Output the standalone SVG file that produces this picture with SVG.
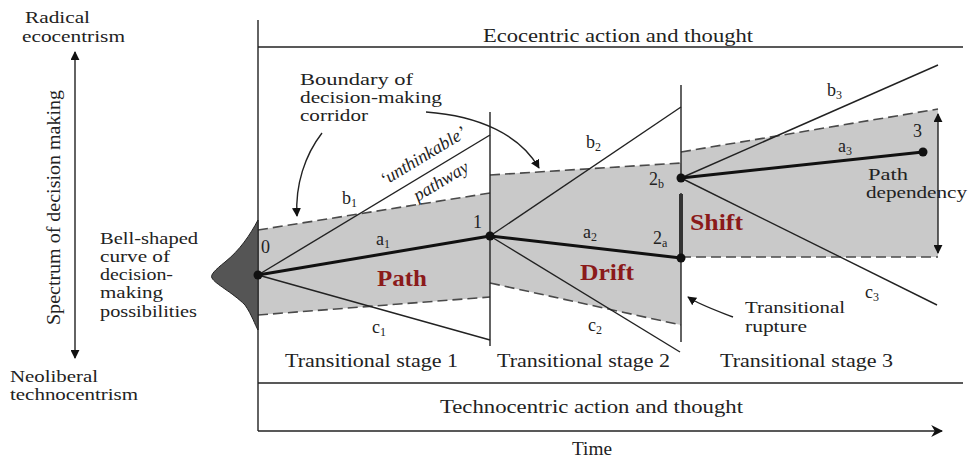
<svg xmlns="http://www.w3.org/2000/svg" width="973" height="460" viewBox="0 0 973 460">
<defs>
<marker id="ah" viewBox="0 0 10 10" refX="9" refY="5" markerWidth="9" markerHeight="9" orient="auto-start-reverse" markerUnits="userSpaceOnUse"><path d="M0,0 L10,5 L0,10 z" fill="#111"/></marker>
<marker id="ahs" viewBox="0 0 10 10" refX="9" refY="5" markerWidth="12" markerHeight="12" orient="auto-start-reverse" markerUnits="userSpaceOnUse"><path d="M0,0 L10,5 L0,10 L3,5 z" fill="#111"/></marker>
</defs>
<style>
text{font-family:"Liberation Serif","Times New Roman",serif;fill:#222;font-size:19px}
.st{font-size:16px}
.red{fill:#8b1a1a;font-weight:bold;font-size:23px}
.lbl{font-size:18px}
.ln{stroke:#222;stroke-width:1.4;fill:none}
.thick{stroke:#111;stroke-width:3;fill:none}
.dash{stroke:#4a4a4a;stroke-width:1.6;stroke-dasharray:10,5;fill:none}
.corr{fill:#c9c9c9;stroke:none}
.sub{font-size:12px}
</style>
<rect width="973" height="460" fill="#fff"/>

<g id="corridor">
<polygon class="corr" points="258,230 490,193 490,297 258,315"/>
<polygon class="corr" points="490,175 681,163 681,325 490,283"/>
<polygon class="corr" points="681,152 938,109 938,257 681,257"/>
<line class="dash" x1="258" y1="230" x2="490" y2="193"/>
<line class="dash" x1="258" y1="315" x2="490" y2="297"/>
<line class="dash" x1="490" y1="175" x2="681" y2="163"/>
<line class="dash" x1="490" y1="283" x2="681" y2="325"/>
<line class="dash" x1="681" y1="152" x2="938" y2="109"/>
<line class="dash" x1="681" y1="257" x2="938" y2="257"/>
</g>

<g id="frame">
<line class="ln" x1="258" y1="20" x2="258" y2="431"/>
<line class="ln" x1="258" y1="47" x2="963" y2="47"/>
<line class="ln" x1="258" y1="383" x2="963" y2="383"/>
<line class="ln" x1="258" y1="431" x2="942" y2="431" marker-end="url(#ahs)"/>
<line class="ln" x1="490" y1="112" x2="490" y2="346"/>
<line class="ln" x1="681" y1="85" x2="681" y2="178"/>
<line class="ln" x1="681" y1="193" x2="681" y2="342"/>
<line stroke="#333" stroke-width="4" x1="681" y1="194" x2="681" y2="256"/>
</g>

<g id="bell">
<path d="M258,220 C250,235 240,250 225,262 C215,270 210,275 212,278 C215,284 232,292 245,305 C252,315 255,325 258,330 Z" fill="#555" stroke="#222" stroke-width="1"/>
</g>

<g id="connectors">
<line class="ln" x1="258" y1="275" x2="490" y2="135"/>
<line class="ln" x1="258" y1="275" x2="490" y2="340"/>
<line class="thick" x1="258" y1="275" x2="490" y2="236"/>
<line class="ln" x1="490" y1="236" x2="681" y2="107"/>
<line class="ln" x1="490" y1="236" x2="680" y2="352"/>
<line class="thick" x1="490" y1="236" x2="681" y2="258"/>
<line class="ln" x1="681" y1="178" x2="938" y2="65"/>
<line class="ln" x1="681" y1="178" x2="937" y2="305"/>
<line class="thick" x1="681" y1="178" x2="923" y2="152"/>
<line class="ln" x1="938" y1="114" x2="938" y2="253" marker-start="url(#ah)" marker-end="url(#ah)"/>
<line class="ln" x1="75" y1="52" x2="75" y2="358" marker-start="url(#ah)" marker-end="url(#ah)"/>
<path class="ln" d="M322,133 C305,155 295,185 297,216" marker-end="url(#ah)"/>
<path class="ln" d="M426,112 C480,116 520,135 539,168" marker-end="url(#ah)"/>
<path class="ln" d="M733,317 C715,310 700,305 688,297" marker-end="url(#ah)"/>
</g>

<g id="points">
<circle cx="258" cy="275" r="4.5" fill="#111"/>
<circle cx="490" cy="236" r="4.5" fill="#111"/>
<circle cx="681" cy="258" r="4.5" fill="#111"/>
<circle cx="681" cy="178" r="4.5" fill="#111"/>
<circle cx="923" cy="152" r="4.5" fill="#111"/>
</g>

<g id="labels">
<text x="483" y="42" textLength="270" lengthAdjust="spacingAndGlyphs">Ecocentric action and thought</text>
<text x="440" y="413" textLength="303" lengthAdjust="spacingAndGlyphs">Technocentric action and thought</text>
<text x="572" y="455" textLength="40" lengthAdjust="spacingAndGlyphs">Time</text>
<text class="st" x="25" y="23" textLength="65" lengthAdjust="spacingAndGlyphs">Radical</text>
<text class="st" x="22" y="42" textLength="103" lengthAdjust="spacingAndGlyphs">ecocentrism</text>
<text class="st" x="10" y="382" textLength="88" lengthAdjust="spacingAndGlyphs">Neoliberal</text>
<text class="st" x="10" y="400" textLength="128" lengthAdjust="spacingAndGlyphs">technocentrism</text>
<text x="0" y="0" transform="translate(60 325) rotate(-90)" textLength="235" lengthAdjust="spacingAndGlyphs">Spectrum of decision making</text>
<text class="st" x="100" y="244" textLength="98" lengthAdjust="spacingAndGlyphs">Bell-shaped</text>
<text class="st" x="100" y="262" textLength="70" lengthAdjust="spacingAndGlyphs">curve of</text>
<text class="st" x="100" y="280" textLength="73" lengthAdjust="spacingAndGlyphs">decision-</text>
<text class="st" x="100" y="298" textLength="63" lengthAdjust="spacingAndGlyphs">making</text>
<text class="st" x="100" y="317" textLength="97" lengthAdjust="spacingAndGlyphs">possibilities</text>
<text class="st" x="300" y="85" textLength="113" lengthAdjust="spacingAndGlyphs">Boundary of</text>
<text class="st" x="300" y="103" textLength="142" lengthAdjust="spacingAndGlyphs">decision-making</text>
<text class="st" x="300" y="121" textLength="68" lengthAdjust="spacingAndGlyphs">corridor</text>
<text class="lbl" font-style="italic" x="426" y="161" text-anchor="middle" transform="rotate(-31 426 161)">‘unthinkable’</text>
<text class="lbl" font-style="italic" x="444" y="186" text-anchor="middle" transform="rotate(-31 444 186)">pathway</text>
<text class="lbl" x="261" y="253">0</text>
<text class="lbl" x="473" y="228">1</text>
<text class="lbl" x="342" y="204">b<tspan class="sub" dy="3">1</tspan></text>
<text class="lbl" x="376" y="245">a<tspan class="sub" dy="3">1</tspan></text>
<text class="lbl" x="372" y="333">c<tspan class="sub" dy="3">1</tspan></text>
<text class="red" x="377" y="286" textLength="50" lengthAdjust="spacingAndGlyphs">Path</text>
<text class="lbl" x="586" y="148">b<tspan class="sub" dy="3">2</tspan></text>
<text class="lbl" x="583" y="238">a<tspan class="sub" dy="3">2</tspan></text>
<text class="lbl" x="588" y="331">c<tspan class="sub" dy="3">2</tspan></text>
<text class="lbl" x="653" y="244">2<tspan class="sub" dy="3">a</tspan></text>
<text class="lbl" x="649" y="185">2<tspan class="sub" dy="3">b</tspan></text>
<text class="red" x="580" y="280" textLength="54" lengthAdjust="spacingAndGlyphs">Drift</text>
<text class="red" x="690" y="230" textLength="53" lengthAdjust="spacingAndGlyphs">Shift</text>
<text class="lbl" x="827" y="96">b<tspan class="sub" dy="3">3</tspan></text>
<text class="lbl" x="838" y="152">a<tspan class="sub" dy="3">3</tspan></text>
<text class="lbl" x="865" y="298">c<tspan class="sub" dy="3">3</tspan></text>
<text class="lbl" x="913" y="137">3</text>
<text class="st" x="868" y="180" textLength="40" lengthAdjust="spacingAndGlyphs">Path</text>
<text class="st" x="866" y="198" textLength="101" lengthAdjust="spacingAndGlyphs">dependency</text>
<text class="st" x="745" y="313" textLength="100" lengthAdjust="spacingAndGlyphs">Transitional</text>
<text class="st" x="745" y="332" textLength="62" lengthAdjust="spacingAndGlyphs">rupture</text>
<text x="285" y="367" textLength="173" lengthAdjust="spacingAndGlyphs">Transitional stage 1</text>
<text x="497" y="367" textLength="173" lengthAdjust="spacingAndGlyphs">Transitional stage 2</text>
<text x="720" y="367" textLength="173" lengthAdjust="spacingAndGlyphs">Transitional stage 3</text>
</g>
</svg>
